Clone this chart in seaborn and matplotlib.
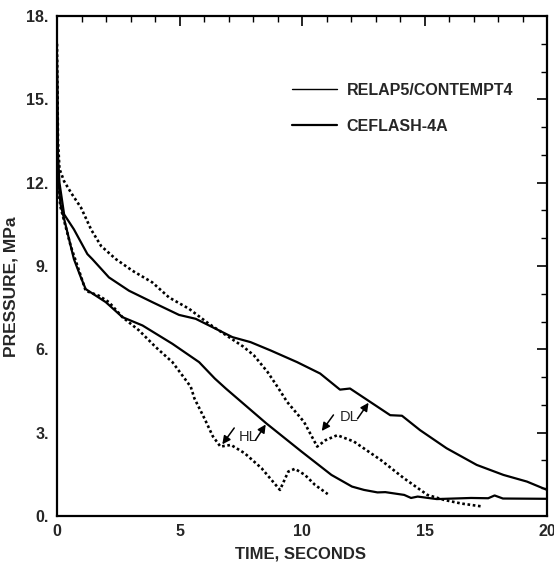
import numpy as np
import pandas as pd
import matplotlib
matplotlib.use("Agg")
import matplotlib.pyplot as plt
from matplotlib.ticker import MultipleLocator, FuncFormatter
from matplotlib.lines import Line2D
import seaborn as sns

# ---- data ----
relap_dl_t = [0.0, 0.04, 0.1, 0.29, 0.6, 0.98, 1.4, 1.8, 2.4, 3.08, 3.89, 4.57, 5.39, 6.2,
              7.02, 7.6, 8.04, 8.59, 9.0, 9.39, 10.08, 10.62, 10.96, 11.44, 12.12, 13.21,
              14.16, 15.12, 15.8, 16.5, 17.3]
relap_dl_p = [17.0, 13.5, 12.5, 12.05, 11.6, 11.1, 10.3, 9.72, 9.25, 8.83, 8.41, 7.87, 7.46, 6.92,
              6.44, 6.1, 5.78, 5.19, 4.65, 4.11, 3.39, 2.5, 2.73, 2.91, 2.68, 2.02,
              1.36, 0.76, 0.58, 0.45, 0.35]

ceflash_dl_t = [0.0, 0.04, 0.1, 0.29, 0.69, 1.24, 1.44, 2.12, 2.94, 3.89, 4.98, 5.66, 6.48, 7.16,
                7.9, 8.72, 9.8, 10.74, 11.55, 11.96, 12.78, 13.6, 14.08, 14.82, 15.9, 17.13,
                18.22, 19.18, 20.0]
ceflash_dl_p = [16.5, 13.0, 12.0, 10.86, 10.32, 9.43, 9.25, 8.59, 8.11, 7.7, 7.24, 7.1, 6.74, 6.44,
                6.26, 5.96, 5.54, 5.13, 4.55, 4.59, 4.11, 3.63, 3.61, 3.09, 2.44, 1.84,
                1.48, 1.24, 0.94]

relap_hl_t = [0.0, 0.04, 0.1, 0.15, 0.56, 0.97, 1.17, 1.71, 2.12, 2.67, 3.35, 4.03, 4.71, 5.21,
              5.46, 5.61, 6.02, 6.36, 6.67, 7.1, 7.66, 8.35, 9.1, 9.44, 9.71, 10.12, 10.53, 11.05]
relap_hl_p = [15.5, 12.5, 11.4, 11.1, 9.72, 8.65, 8.11, 7.93, 7.7, 7.16, 6.68, 6.08, 5.54, 4.95,
              4.65, 4.23, 3.51, 2.87, 2.5, 2.56, 2.26, 1.72, 0.94, 1.6, 1.7, 1.48, 1.12, 0.79]

ceflash_hl_t = [0.0, 0.04, 0.1, 0.15, 0.4, 0.69, 0.97, 1.17, 1.99, 2.67, 3.49, 4.71, 5.8, 6.44,
                6.89, 8.55, 9.98, 11.2, 12.04, 12.53, 13.08, 13.4, 14.17, 14.45, 14.72, 15.5,
                16.9, 17.6, 17.86, 18.2, 20.0]
ceflash_hl_p = [16.0, 12.5, 11.6, 11.2, 10.3, 9.25, 8.6, 8.17, 7.7, 7.16, 6.86, 6.2, 5.54, 4.95,
                4.59, 3.33, 2.32, 1.48, 1.06, 0.94, 0.85, 0.86, 0.76, 0.65, 0.7, 0.61,
                0.65, 0.64, 0.74, 0.63, 0.62]

series_labels = ["RELAP5/CONTEMPT4", "CEFLASH-4A"]
x_ticks = [0, 5, 10, 15, 20]
y_ticks = [0, 3, 6, 9, 12, 15, 18]

# ---- figure ----
sns.set_style("white")
plt.rcParams["font.family"] = ["Liberation Sans", "DejaVu Sans"]

fig = plt.figure(figsize=(5.54, 5.66), dpi=100)
ax = fig.add_axes([0.1029, 0.0883, 0.8845, 0.8834])

dotted = (0, (1.0, 1.0))
for t, p, ls, lw in [
    (relap_dl_t, relap_dl_p, dotted, 1.9),
    (relap_hl_t, relap_hl_p, dotted, 1.9),
    (ceflash_dl_t, ceflash_dl_p, "-", 1.6),
    (ceflash_hl_t, ceflash_hl_p, "-", 1.6),
]:
    sns.lineplot(x=t, y=p, ax=ax, color="black", sort=False, estimator=None,
                 linestyle=ls, linewidth=lw)

ax.set_xlim(0, 20)
ax.set_ylim(0, 18)
ax.set_xticks(x_ticks)
ax.set_yticks(y_ticks)
ax.xaxis.set_minor_locator(MultipleLocator(1))
ax.yaxis.set_minor_locator(MultipleLocator(1))
ax.yaxis.set_major_formatter(FuncFormatter(lambda v, _: f"{v:.0f}."))
ax.tick_params(which="both", direction="in", top=True, right=True, color="black",
               labelsize=11.5, pad=6)
ax.tick_params(which="major", length=7, width=1.2)
ax.tick_params(which="minor", length=4, width=1.0)
for lab in ax.get_xticklabels() + ax.get_yticklabels():
    lab.set_fontweight("bold")
for s in ax.spines.values():
    s.set_visible(True)
    s.set_color("black")
    s.set_linewidth(1.6)

ax.set_xlabel("TIME, SECONDS", fontsize=12, fontweight="bold")
ax.set_ylabel("PRESSURE, MPa", fontsize=12.5, fontweight="bold")
ax.xaxis.set_label_coords(0.497, -0.061)
ax.yaxis.set_label_coords(-0.078, 0.458)

# legend
handles = [Line2D([], [], color="black", lw=1.0),
           Line2D([], [], color="black", lw=1.6)]
leg = ax.legend(handles, series_labels, loc="upper left", bbox_to_anchor=(0.48, 0.866),
                frameon=False, handlelength=2.8, handletextpad=0.6, labelspacing=1.3,
                borderpad=0, borderaxespad=0,
                prop={"weight": "bold", "size": 11.5})

# annotations
arrow = dict(arrowstyle="-|>", color="black", lw=1.1, mutation_scale=12)
ax.text(7.4, 2.85, "HL", fontsize=10.5, va="center")
ax.annotate("", xy=(6.68, 2.5), xytext=(7.3, 3.25), arrowprops=arrow)
ax.annotate("", xy=(8.58, 3.38), xytext=(8.04, 2.65), arrowprops=arrow)
ax.text(11.55, 3.57, "DL", fontsize=10.5, va="center")
ax.annotate("", xy=(10.74, 2.98), xytext=(11.35, 3.72), arrowprops=arrow)
ax.annotate("", xy=(12.78, 4.16), xytext=(12.2, 3.42), arrowprops=arrow)

fig.savefig("out.png", dpi=100)
